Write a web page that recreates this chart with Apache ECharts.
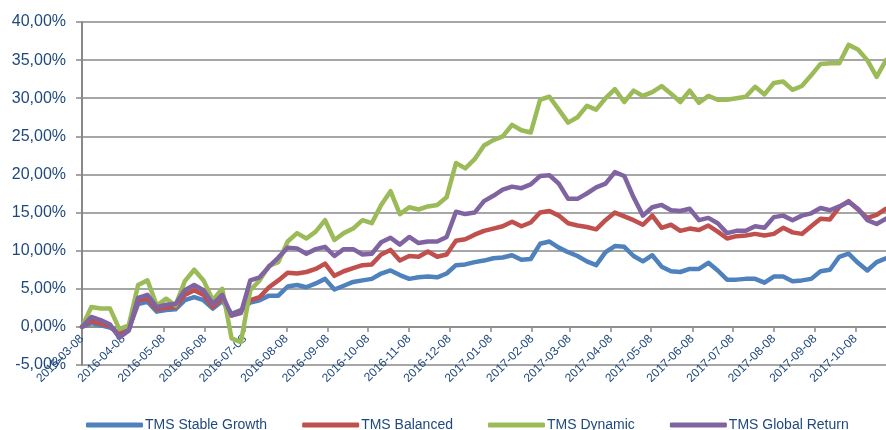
<!DOCTYPE html>
<html>
<head>
<meta charset="utf-8">
<script src="https://cdn.jsdelivr.net/npm/echarts@6/dist/echarts.min.js"></script>
<style>
  html, body { margin: 0; padding: 0; background: #fff; }
  #chart { width: 886px; height: 430px; }
</style>
</head>
<body>
<div id="chart"></div>
<script>
// weekly readings, first point 2016-03-08, one every 7 days
const startDate = '2016-03-08';
const stepDays = 7;
const axisEnd = '2017-10-31';

const tickLabels = [
  '2016-03-08', '2016-04-08', '2016-05-08', '2016-06-08', '2016-07-08', '2016-08-08',
  '2016-09-08', '2016-10-08', '2016-11-08', '2016-12-08', '2017-01-08', '2017-02-08',
  '2017-03-08', '2017-04-08', '2017-05-08', '2017-06-08', '2017-07-08', '2017-08-08',
  '2017-09-08', '2017-10-08',
];

const seriesNames = ['TMS Stable Growth', 'TMS Balanced', 'TMS Dynamic', 'TMS Global Return'];
const seriesColors = ['#4F81BD', '#C0504D', '#9BBB59', '#8064A2'];

const stableGrowth = [
  0, 0.5, 0.2, -0.1, -0.8, -0.3, 3.0, 3.3, 2.0, 2.2,
  2.3, 3.5, 3.9, 3.5, 2.4, 3.4, 1.7, 2.2, 3.2, 3.5,
  4.1, 4.1, 5.3, 5.5, 5.2, 5.7, 6.3, 4.9, 5.4, 5.9,
  6.1, 6.3, 7.0, 7.4, 6.8, 6.3, 6.5, 6.6, 6.5, 7.0,
  8.1, 8.2, 8.5, 8.7, 9.0, 9.1, 9.4, 8.8, 8.9, 10.9,
  11.2, 10.4, 9.8, 9.3, 8.6, 8.1, 9.8, 10.6, 10.5, 9.3,
  8.6, 9.4, 7.9, 7.3, 7.2, 7.6, 7.6, 8.4, 7.4, 6.2,
  6.2, 6.3, 6.3, 5.8, 6.6, 6.6, 6.0, 6.1, 6.3, 7.3,
  7.5, 9.2, 9.6, 8.4, 7.4, 8.5, 9.0,
];
const balanced = [
  0, 0.8, 0.4, 0.1, -1.0, -0.4, 3.5, 3.7, 2.3, 2.5,
  2.6, 4.2, 4.8, 4.2, 2.6, 3.8, 1.5, 2.0, 3.5, 3.9,
  5.2, 6.1, 7.1, 7.0, 7.2, 7.6, 8.3, 6.7, 7.3, 7.7,
  8.1, 8.2, 9.5, 10.1, 8.7, 9.3, 9.2, 9.9, 9.2, 9.5,
  11.3, 11.5, 12.1, 12.6, 12.9, 13.2, 13.8, 13.2, 13.7, 15.0,
  15.2, 14.6, 13.6, 13.3, 13.1, 12.8, 14.0, 15.0, 14.5, 14.0,
  13.4, 14.6, 13.0, 13.4, 12.6, 12.9, 12.7, 13.3, 12.5, 11.6,
  11.9, 12.0, 12.2, 12.0, 12.2, 13.0, 12.4, 12.2, 13.2, 14.2,
  14.1, 15.7, 16.5, 15.4, 14.3, 14.7, 15.5,
];
const dynamic = [
  0, 2.6, 2.4, 2.4, -0.3, 0.2, 5.5, 6.1, 2.8, 3.7,
  2.8, 6.0, 7.5, 6.1, 3.5, 5.0, -1.5, -2.0, 4.8, 6.1,
  8.0, 8.5, 11.2, 12.3, 11.6, 12.5, 14.0, 11.4, 12.3, 12.9,
  14.0, 13.6, 16.0, 17.8, 14.8, 15.7, 15.4, 15.8, 16.0, 17.0,
  21.5, 20.8, 22.0, 23.8, 24.5, 25.0, 26.5, 25.8, 25.5, 29.8,
  30.2, 28.5, 26.8, 27.5, 29.0, 28.5, 30.0, 31.2, 29.5, 31.0,
  30.3, 30.8, 31.6, 30.6, 29.5, 31.0, 29.4, 30.3, 29.8, 29.8,
  30.0, 30.2, 31.5, 30.5, 32.0, 32.2, 31.1, 31.6, 33.0, 34.5,
  34.6, 34.6, 37.0, 36.4, 35.0, 32.8, 35.0,
];
const globalReturn = [
  0, 1.3, 0.9, 0.3, -1.4, -0.5, 3.8, 4.2, 2.6, 2.9,
  3.0, 4.8, 5.5, 4.8, 3.0, 4.2, 1.5, 1.8, 6.1, 6.5,
  7.9, 9.1, 10.4, 10.3, 9.6, 10.2, 10.5, 9.3, 10.2, 10.2,
  9.5, 9.6, 11.1, 11.7, 10.8, 11.8, 11.0, 11.2, 11.2, 11.8,
  15.1, 14.8, 15.0, 16.5, 17.2, 18.0, 18.4, 18.2, 18.7, 19.8,
  19.9, 18.8, 16.8, 16.8, 17.5, 18.3, 18.8, 20.3, 19.8, 17.0,
  14.6, 15.7, 16.0, 15.3, 15.2, 15.5, 14.0, 14.3, 13.6, 12.3,
  12.6, 12.6, 13.2, 13.0, 14.4, 14.6, 14.0, 14.6, 14.9, 15.6,
  15.3, 15.8, 16.4, 15.5, 14.0, 13.5, 14.2,
];

const seriesValues = [stableGrowth, balanced, dynamic, globalReturn];

// x axis counts whole days from the start date
const dayMs = 24 * 3600 * 1000;
const toDay = (s) => {
  const [y, m, d] = s.split('-').map(Number);
  return Math.round((Date.UTC(y, m - 1, d) - Date.UTC(2016, 2, 8)) / dayMs);
};
const tickDays = tickLabels.map(toDay);
const labelByDay = Object.fromEntries(tickLabels.map((s, i) => [tickDays[i], s]));

const textColor = '#1F497D';
const gridColor = '#898989';
const fontFamily = '"Liberation Sans", Arial, sans-serif';

const chart = echarts.init(document.getElementById('chart'));
chart.setOption({
  animation: false,
  backgroundColor: '#ffffff',
  textStyle: { fontFamily },
  grid: { left: 82, right: 0, top: 22, bottom: 65, outerBoundsMode: 'none' },
  legend: {
    data: seriesNames,
    left: 81,
    top: 413,
    icon: 'roundRect',
    itemWidth: 57,
    itemHeight: 5,
    itemGap: 35,
    textStyle: { color: textColor, fontSize: 14, fontFamily, padding: [0, 0, 0, -3] },
  },
  xAxis: {
    type: 'value',
    min: toDay(startDate),
    max: toDay(axisEnd),
    // category line sits on the 0 % level, labels hang below it
    offset: -38,
    axisLine: { onZero: false, lineStyle: { color: gridColor, width: 1.5 } },
    axisTick: {
      show: true,
      length: 5,
      customValues: tickDays,
      lineStyle: { color: gridColor, width: 1.5 },
    },
    axisLabel: {
      customValues: tickDays,
      rotate: 45,
      margin: 10,
      color: textColor,
      fontSize: 12,
      fontFamily,
      formatter: (value) => labelByDay[Math.round(value)] ?? '',
    },
    splitLine: { show: false },
  },
  yAxis: {
    type: 'value',
    min: -5,
    max: 40,
    interval: 5,
    axisLine: { show: true, lineStyle: { color: gridColor, width: 2 } },
    axisTick: { show: true, length: 6, lineStyle: { color: gridColor, width: 1.5 } },
    axisLabel: {
      margin: 16,
      color: textColor,
      fontSize: 16,
      fontFamily,
      formatter: (v) => v.toFixed(2).replace('.', ',') + '%',
    },
    splitLine: { show: true, lineStyle: { color: gridColor, width: 1.5 } },
  },
  series: seriesNames.map((name, i) => ({
    name,
    type: 'line',
    showSymbol: false,
    symbol: 'none',
    color: seriesColors[i],
    lineStyle: { width: 4.5, color: seriesColors[i], cap: 'round', join: 'round' },
    data: seriesValues[i].map((v, k) => [k * stepDays, v]),
  })),
});
</script>
</body>
</html>
